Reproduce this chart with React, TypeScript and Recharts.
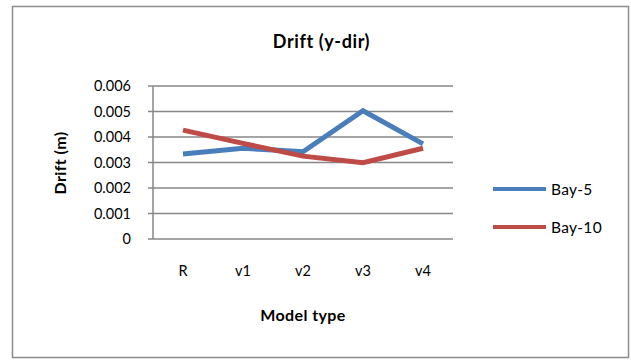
import { LineChart, Line, XAxis, YAxis, CartesianGrid } from "recharts";

const models = ["R", "v1", "v2", "v3", "v4"];
const bay5 = [0.00333, 0.00356, 0.00342, 0.00503, 0.00373];
const bay10 = [0.00427, 0.00375, 0.00325, 0.00299, 0.00356];
const yTicks = [0, 0.001, 0.002, 0.003, 0.004, 0.005, 0.006];

const data = models.map((m, i) => ({ model: m, "Bay-5": bay5[i], "Bay-10": bay10[i] }));

const FONT = "Lato, 'Open Sans', sans-serif";
const GRID = "#878787";
const BLUE = "#4a7ebb";
const RED = "#be4b48";

const series = [
	{ name: "Bay-5", color: BLUE },
	{ name: "Bay-10", color: RED },
];

export const DriftChart = () => {
	return (
		<div
			style={{
				position: "absolute",
				left: 0,
				top: 0,
				width: 631,
				height: 360,
				background: "#fff",
				fontFamily: FONT,
				color: "#000",
			}}
		>
			<svg width={631} height={360} style={{ position: "absolute", left: 0, top: 0 }}>
				<rect x={12.5} y={6.5} width={616} height={351} fill="#fff" stroke="#8c8c8c" strokeWidth={1.5} />
			</svg>
			<div style={{ position: "absolute", left: 0, top: 0 }}>
				<LineChart
					width={631}
					height={360}
					data={data}
					margin={{ top: 86, right: 178, left: 93, bottom: 91 }}
				>
					<CartesianGrid vertical={false} stroke={GRID} strokeWidth={1.5} />
					<XAxis
						dataKey="model"
						axisLine={false}
						tickLine={false}
						tickMargin={21}
						height={30}
						padding={{ left: 30, right: 30 }}
						tick={{ fill: "#000", fontSize: 14.5, fontFamily: FONT }}
					/>
					<YAxis
						domain={[0, 0.006]}
						ticks={yTicks}
						width={60}
						interval={0}
						tickSize={5}
						tickMargin={17}
						axisLine={{ stroke: GRID, strokeWidth: 1.5 }}
						tickLine={{ stroke: GRID, strokeWidth: 1.5 }}
						tickFormatter={(v: number) => (v === 0 ? "0" : v.toFixed(3))}
						tick={{ fill: "#000", fontSize: 14.5, fontFamily: FONT }}
					/>
					<Line
						dataKey="Bay-5"
						stroke={BLUE}
						strokeWidth={5}
						dot={false}
						isAnimationActive={false}
					/>
					<Line
						dataKey="Bay-10"
						stroke={RED}
						strokeWidth={5}
						dot={false}
						isAnimationActive={false}
					/>
				</LineChart>
			</div>
			<div
				style={{
					position: "absolute",
					top: 30,
					left: 0,
					width: 643,
					textAlign: "center",
					fontWeight: 700,
					fontSize: 18,
					letterSpacing: 0.6,
				}}
			>
				Drift (y-dir)
			</div>
			<div
				style={{
					position: "absolute",
					left: 59,
					top: 163,
					transform: "translate(-50%, -50%) rotate(-90deg)",
					fontWeight: 700,
					fontSize: 16,
					letterSpacing: 0.4,
					whiteSpace: "nowrap",
				}}
			>
				Drift (m)
			</div>
			<div
				style={{
					position: "absolute",
					top: 305,
					left: 203,
					width: 200,
					textAlign: "center",
					fontWeight: 700,
					fontSize: 16,
					letterSpacing: 0.4,
				}}
			>
				Model type
			</div>
			<div style={{ position: "absolute", left: 493, top: 179, fontSize: 15.5, letterSpacing: 0.3 }}>
				{series.map((s, i) => (
					<div
						key={s.name}
						style={{ display: "flex", alignItems: "center", height: 20, marginTop: i ? 18 : 0 }}
					>
						<div style={{ width: 53, height: 4, background: s.color, marginRight: 5 }} />
						<span>{s.name}</span>
					</div>
				))}
			</div>
		</div>
	);
};

export default DriftChart;
